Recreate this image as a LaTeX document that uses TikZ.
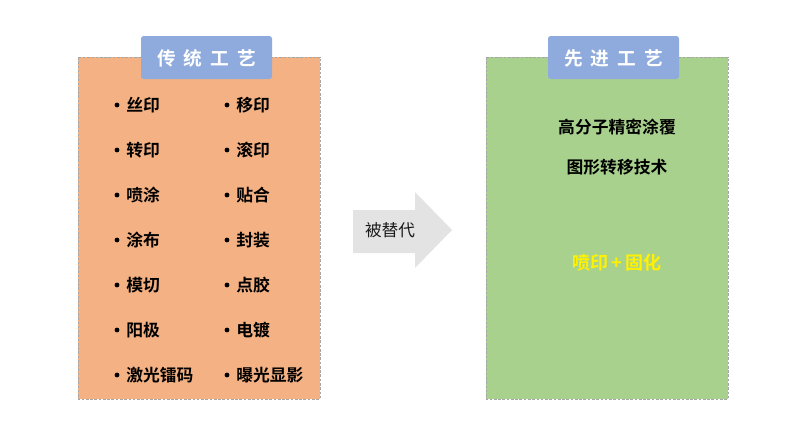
\documentclass[tikz,border=0pt]{standalone}
\usepackage{fontspec}
\newfontfamily\cjk{Noto Sans CJK SC}
\newfontfamily\cjkb{Noto Sans CJK SC Bold}
\definecolor{orangefill}{HTML}{F4B183}
\definecolor{greenfill}{HTML}{A9D18E}
\definecolor{tabblue}{HTML}{8FAADC}
\definecolor{bordergray}{HTML}{A6A6A6}
\definecolor{arrowgray}{HTML}{E3E3E3}
\definecolor{textdark}{HTML}{1A1A1A}
\begin{document}
\begin{tikzpicture}[x=0.75pt,y=-0.75pt,
  panel/.style={draw=bordergray, line width=0.6pt, dash pattern=on 2pt off 1.2pt},
  tab/.style={fill=tabblue, rounded corners=2pt},
  tabtext/.style={text=white, font=\cjkb\fontsize{14}{16}\selectfont, inner sep=0pt},
  item/.style={anchor=west, inner sep=0pt, text=black, font=\cjkb\fontsize{12.6}{14}\selectfont},
  dot/.style={fill=black, circle, inner sep=0pt, minimum size=3.6pt},
  adv/.style={inner sep=0pt, text=black, font=\cjkb\fontsize{12.6}{14}\selectfont}]
\useasboundingbox (0,0) rectangle (800,425);
% panels
\filldraw[panel, fill=orangefill] (78,57) rectangle (320,399);
\filldraw[panel, fill=greenfill] (486,57) rectangle (728,399);
% tabs
\fill[tab] (141,36) rectangle (272,79);
\fill[tab] (548,36) rectangle (679,79);
\node[tabtext] (t1) at (206.5,58) {传\hspace{6pt}统\hspace{6pt}工\hspace{6pt}艺};
\node[tabtext] (t2) at (613.5,58) {先\hspace{6pt}进\hspace{6pt}工\hspace{6pt}艺};
% left items
\foreach \y/\a/\b [count=\i] in {105/丝印/移印,150/转印/滚印,195/喷涂/贴合,240/涂布/封装,285/模切/点胶,330/阳极/电镀,375/激光镭码/曝光显影}{
  \node[dot] (da\i) at (117,\y) {};
  \node[item] (la\i) at (126,\y) {\a};
  \node[dot] (db\i) at (227,\y) {};
  \node[item] (lb\i) at (236,\y) {\b};
}
% arrow
\fill[arrowgray] (353,210) -- (415,210) -- (415,192) -- (452,230) -- (415,268) -- (415,253) -- (353,253) -- cycle;
\node[text=textdark, font=\cjk\fontsize{12.5}{14}\selectfont, inner sep=0pt] (lbl) at (390,230) {被替代};
% right items
\node[adv] (r1) at (617,127) {高分子精密涂覆};
\node[adv] (r2) at (617,167) {图形转移技术};
\node[adv, text={yellow}, font=\cjkb\fontsize{13.5}{15}\selectfont] (r3) at (617,263) {喷印\,+\,固化};
\end{tikzpicture}
\end{document}
